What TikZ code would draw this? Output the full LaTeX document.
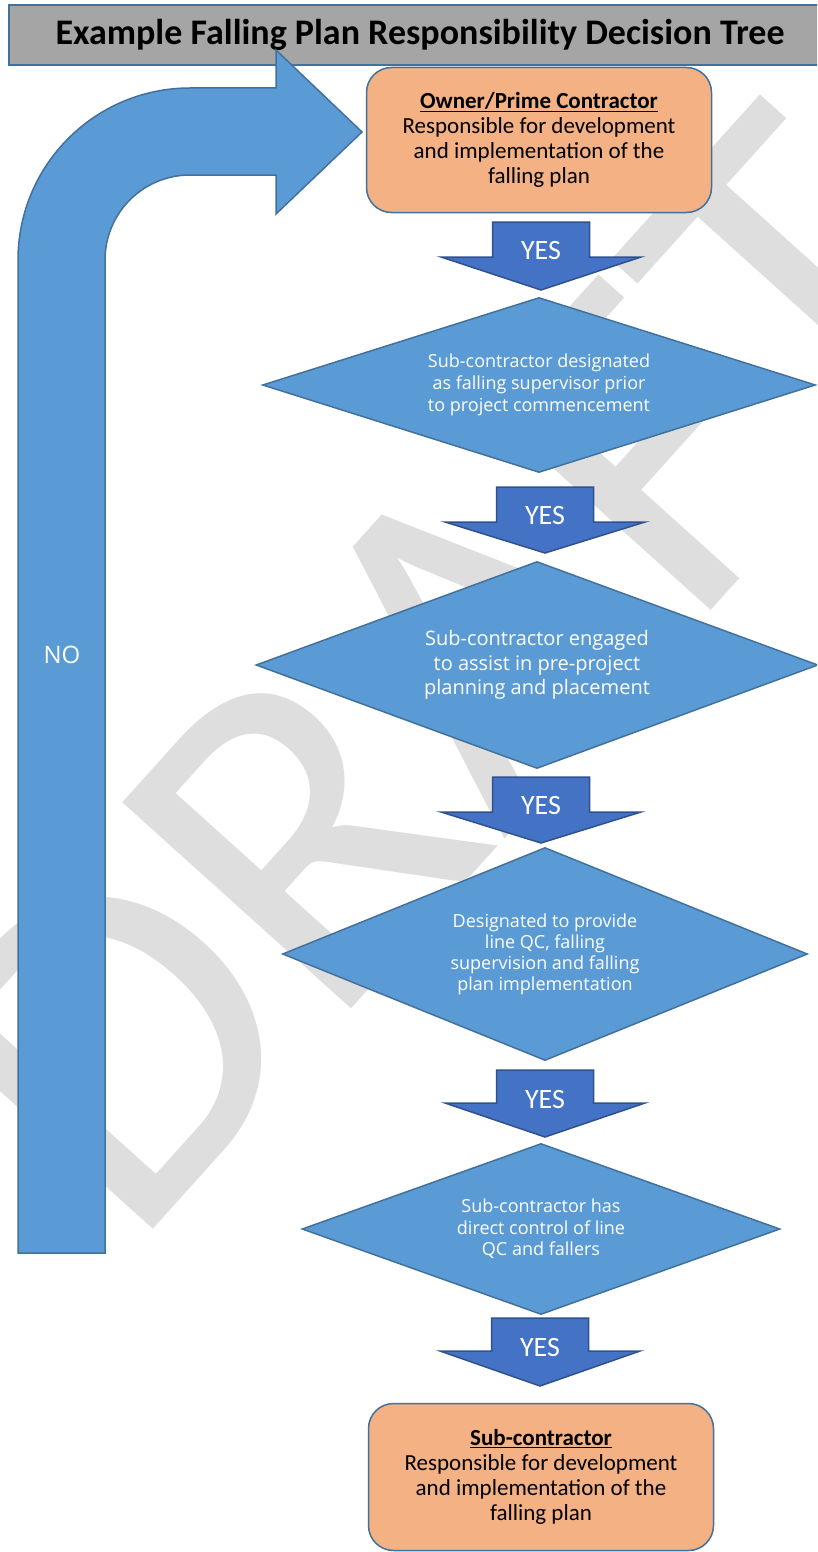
\documentclass[tikz,border=0pt]{standalone}
\usepackage{fontspec}
\setmainfont{Carlito}
\newfontfamily\boxfont{Open Sans}
\usetikzlibrary{shapes.geometric}
\definecolor{titlegray}{HTML}{A5A5A5}
\definecolor{edgeblue}{HTML}{41719C}
\definecolor{boxorange}{HTML}{F4B183}
\definecolor{diablue}{HTML}{5B9BD5}
\definecolor{yesblue}{HTML}{4472C4}
\definecolor{yesedge}{HTML}{2F528F}
\definecolor{markgray}{HTML}{DEDEDE}
\tikzset{
  titlebox/.style={draw=edgeblue, line width=1.5pt, fill=titlegray, minimum width=822pt, minimum height=60pt, inner sep=0pt, font=\bfseries\fontsize{36}{36}\selectfont},
  endbox/.style={draw=edgeblue, line width=1.5pt, fill=boxorange, rounded corners=25pt, minimum width=345pt, minimum height=145pt, align=center, font=\fontsize{23}{25}\selectfont},
  choice/.style={diamond, aspect=3, draw=edgeblue, line width=1.5pt, fill=diablue, text=white, align=center, inner sep=0pt},
  yesarrow/.style={draw=yesedge, line width=1.5pt, fill=yesblue},
  noarrow/.style={draw=edgeblue, line width=1.5pt, fill=diablue},
  yeslabel/.style={text=white, inner sep=0pt, font=\fontsize{28}{28}\selectfont},
  watermark/.style={text=markgray, inner sep=0pt, font=\fontsize{480}{480}\selectfont}
}
\begin{document}
\begin{tikzpicture}[x=1pt, y=-1pt]
    \useasboundingbox (0,0) rectangle (817,1552);
    \clip (0,0) rectangle (817,1552);
    \fill[white] (0,0) rectangle (817,1552);
    % watermark
    \node[watermark, rotate=48] (draft) at (448,672) {DRAFT};

    \node[titlebox] (title) at (420,35) {Example Falling Plan Responsibility Decision Tree};

    % NO loop back to the top
    \draw[noarrow] (18,1253) -- (18,260) arc[start angle=180, end angle=270, radius=172] -- (276,88) -- (276,50) -- (362,132) -- (276,214) -- (276,175) -- (190,175) arc[start angle=270, end angle=180, radius=85] -- (105,1253) -- cycle;
    \node[text=white, font=\boxfont\fontsize{24}{24}\selectfont] (no) at (62,655) {NO};

    \node[endbox] (owner) at (539,140) {\underline{\textbf{Owner/Prime Contractor}}\\Responsible for development\\and implementation of the\\falling plan};
    \node[endbox, minimum height=147pt] (sub) at (541,1477) {\underline{\textbf{Sub-contractor}}\\Responsible for development\\and implementation of the\\falling plan};

    % YES arrows
    \draw[yesarrow, shift={(541,222)}] (-48.5,0) -- (48.5,0) -- (48.5,35) -- (100,35) -- (0,68) -- (-100,35) -- (-48.5,35) -- cycle;
    \node[yeslabel] (yes1) at (541,251) {YES};
    \draw[yesarrow, shift={(545,487)}] (-48.5,0) -- (48.5,0) -- (48.5,35) -- (100,35) -- (0,66) -- (-100,35) -- (-48.5,35) -- cycle;
    \node[yeslabel] (yes2) at (545,516) {YES};
    \draw[yesarrow, shift={(541,777)}] (-48.5,0) -- (48.5,0) -- (48.5,35) -- (100,35) -- (0,66) -- (-100,35) -- (-48.5,35) -- cycle;
    \node[yeslabel] (yes3) at (541,806) {YES};
    \draw[yesarrow, shift={(545,1070)}] (-48.5,0) -- (48.5,0) -- (48.5,33) -- (100,33) -- (0,67) -- (-100,33) -- (-48.5,33) -- cycle;
    \node[yeslabel] (yes4) at (545,1099) {YES};
    \draw[yesarrow, shift={(540,1318)}] (-48.5,0) -- (48.5,0) -- (48.5,33) -- (100,33) -- (0,68) -- (-100,33) -- (-48.5,33) -- cycle;
    \node[yeslabel] (yes5) at (540,1347) {YES};

    % decisions
    \node[choice, minimum width=553pt, minimum height=175pt, font=\boxfont\fontsize{18}{22}\selectfont] (super) at (539,385) {Sub-contractor designated\\as falling supervisor prior\\to project commencement};
    \node[choice, minimum width=562pt, minimum height=207pt, font=\boxfont\fontsize{20}{24.5}\selectfont] (assist) at (537,665) {Sub-contractor engaged\\to assist in pre-project\\planning and placement};
    \node[choice, minimum width=525pt, minimum height=213pt, font=\boxfont\fontsize{18}{21}\selectfont] (provide) at (545,954) {Designated to provide\\line QC, falling\\supervision and falling\\plan implementation};
    \node[choice, minimum width=478pt, minimum height=171pt, font=\boxfont\fontsize{18}{21.5}\selectfont] (control) at (541,1229) {Sub-contractor has\\direct control of line\\QC and fallers};
\end{tikzpicture}
\end{document}
